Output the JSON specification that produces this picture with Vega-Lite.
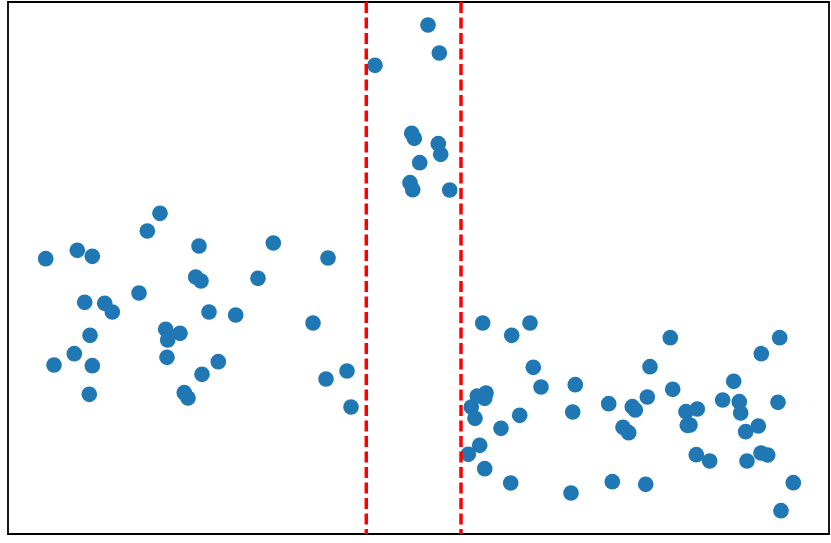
{
  "$schema": "https://vega.github.io/schema/vega-lite/v6.json",
  "width": 821,
  "height": 532,
  "padding": {"left": 8, "top": 0, "right": 2, "bottom": 11},
  "config": {"view": {"stroke": "#000000", "strokeWidth": 1.8}},
  "layer": [
    {
      "data": {"values": [
        {"x": 37.7, "y": 275.3}, {"x": 69.3, "y": 283.7}, {"x": 84.3, "y": 277.7}, {"x": 152.0, "y": 320.7}, {"x": 139.3, "y": 303.0},
        {"x": 191.0, "y": 288.0}, {"x": 265.3, "y": 291.0}, {"x": 187.7, "y": 257.0}, {"x": 193.0, "y": 253.0}, {"x": 250.0, "y": 255.7},
        {"x": 131.0, "y": 241.0}, {"x": 76.7, "y": 231.7}, {"x": 96.7, "y": 230.7}, {"x": 104.3, "y": 222.0}, {"x": 201.0, "y": 222.0},
        {"x": 227.7, "y": 219.0}, {"x": 82.0, "y": 198.7}, {"x": 157.7, "y": 204.7}, {"x": 172.0, "y": 200.7}, {"x": 159.7, "y": 194.0},
        {"x": 66.3, "y": 180.3}, {"x": 46.0, "y": 169.0}, {"x": 84.3, "y": 168.3}, {"x": 159.0, "y": 176.7}, {"x": 210.3, "y": 172.3},
        {"x": 194.0, "y": 159.7}, {"x": 81.3, "y": 139.7}, {"x": 176.3, "y": 141.3}, {"x": 180.0, "y": 136.0},
        {"x": 320.0, "y": 276.0}, {"x": 305.0, "y": 211.0}, {"x": 318.0, "y": 155.0}, {"x": 339.0, "y": 163.0}, {"x": 343.0, "y": 127.0},
        {"x": 420.0, "y": 509.0}, {"x": 431.3, "y": 481.0}, {"x": 367.0, "y": 468.7}, {"x": 403.7, "y": 400.7}, {"x": 406.3, "y": 395.7},
        {"x": 430.3, "y": 390.3}, {"x": 432.7, "y": 379.7}, {"x": 411.7, "y": 371.3}, {"x": 402.0, "y": 351.3}, {"x": 404.7, "y": 344.3},
        {"x": 441.7, "y": 344.0},
        {"x": 474.7, "y": 211.0}, {"x": 522.0, "y": 211.0}, {"x": 503.7, "y": 198.7}, {"x": 525.3, "y": 166.7}, {"x": 533.0, "y": 147.0},
        {"x": 567.3, "y": 149.3}, {"x": 469.3, "y": 138.0}, {"x": 478.0, "y": 141.0}, {"x": 476.7, "y": 135.7}, {"x": 463.3, "y": 127.0},
        {"x": 467.0, "y": 115.7}, {"x": 511.7, "y": 118.7}, {"x": 493.0, "y": 105.7}, {"x": 564.7, "y": 122.0}, {"x": 600.7, "y": 130.3},
        {"x": 624.3, "y": 127.3}, {"x": 627.3, "y": 124.0}, {"x": 615.0, "y": 106.7}, {"x": 620.7, "y": 101.3}, {"x": 471.7, "y": 88.7},
        {"x": 460.3, "y": 79.7}, {"x": 476.7, "y": 65.3}, {"x": 502.7, "y": 51.0}, {"x": 563.0, "y": 41.0}, {"x": 604.3, "y": 52.3},
        {"x": 639.3, "y": 137.0}, {"x": 637.7, "y": 49.7},
        {"x": 662.3, "y": 196.3}, {"x": 642.0, "y": 167.3}, {"x": 664.7, "y": 144.7}, {"x": 678.0, "y": 122.3}, {"x": 689.3, "y": 125.0},
        {"x": 679.3, "y": 108.7}, {"x": 682.0, "y": 109.0}, {"x": 725.7, "y": 152.7}, {"x": 714.7, "y": 134.0}, {"x": 731.3, "y": 132.3},
        {"x": 732.7, "y": 121.0}, {"x": 750.3, "y": 108.0}, {"x": 737.7, "y": 102.3}, {"x": 753.3, "y": 180.3}, {"x": 771.7, "y": 196.3},
        {"x": 770.0, "y": 131.7}, {"x": 688.3, "y": 79.3}, {"x": 701.7, "y": 73.0}, {"x": 739.0, "y": 73.0}, {"x": 753.0, "y": 81.0},
        {"x": 759.7, "y": 79.0}, {"x": 785.3, "y": 51.3}, {"x": 773.0, "y": 23.3}
      ]},
      "mark": {"type": "point", "filled": true, "opacity": 1, "size": 245, "shape": "circle", "color": "#1f77b4"},
      "encoding": {
        "x": {"field": "x", "type": "quantitative", "scale": {"domain": [0, 821], "nice": false, "zero": false}, "axis": null},
        "y": {"field": "y", "type": "quantitative", "scale": {"domain": [0, 532], "nice": false, "zero": false}, "axis": null}
      }
    },
    {
      "data": {"values": [{"x": 358.3}, {"x": 453.0}]},
      "mark": {"type": "rule", "color": "#ff0000", "strokeWidth": 3.5, "strokeDash": [11, 4.5]},
      "encoding": {
        "x": {"field": "x", "type": "quantitative", "scale": {"domain": [0, 821], "nice": false, "zero": false}, "axis": null}
      }
    }
  ]
}
